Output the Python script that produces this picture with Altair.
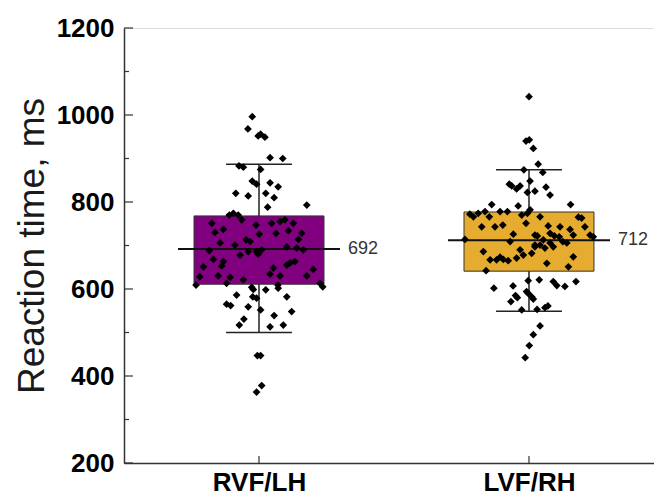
import altair as alt
import pandas as pd

categories = ["RVF/LH", "LVF/RH"]
colors = ["#800080", "#E6AC30"]
q1 = [611, 641]
q3 = [768, 777]
medians = [692, 712]
whisk_lo = [500, 549]
whisk_hi = [887, 874]

rvf_values = [996, 968, 952, 956, 949, 902, 900, 883, 880, 875,
              848, 841, 844, 835, 820, 814, 820, 810, 793, 788,
              770, 774, 770, 759, 751, 747, 751, 755, 759, 751,
              730, 737, 726, 728, 734, 728, 706, 713, 709, 714,
              688, 701, 686, 690, 694, 690, 697, 678, 686, 680,
              668, 663, 660, 663, 655, 651, 653, 648, 645, 628,
              630, 627, 621, 634, 630, 630, 609, 613, 605, 613,
              604, 599, 598, 602, 582, 586, 582, 579, 565, 562,
              559, 552, 539, 548, 531, 517, 513, 517, 447, 447,
              378, 363, 609]
rvf_jitter = [-0.025, -0.041, -0.003, 0.006, 0.022, 0.041, 0.088, -0.074, -0.058, 0.006,
              -0.025, -0.009, 0.041, 0.071, -0.086, -0.040, 0.025, 0.056, 0.177, 0.032,
              -0.110, -0.095, -0.077, -0.064, -0.175, -0.011, 0.047, 0.078, 0.096, 0.127,
              -0.163, -0.132, 0.001, 0.063, 0.109, 0.158, -0.144, -0.048, -0.033, 0.146,
              -0.184, -0.089, -0.009, 0.010, 0.140, 0.164, 0.103, -0.070, -0.040, -0.003,
              -0.169, -0.132, 0.115, 0.133, 0.103, -0.206, -0.138, 0.053, 0.201, -0.219,
              -0.151, -0.107, -0.058, 0.041, 0.078, 0.177, -0.233, 0.226, 0.236, -0.120,
              -0.027, -0.021, 0.025, 0.071, 0.103, -0.083, -0.023, -0.009, -0.120, -0.105,
              -0.040, 0.006, 0.056, 0.121, -0.056, -0.073, 0.041, 0.090, -0.006, 0.006,
              0.010, -0.009, 0.070]

lvf_values = [1042, 940, 943, 923, 887, 874, 868, 848, 841, 837,
              830, 837, 834, 816, 822, 825, 794, 791, 782, 794,
              772, 766, 774, 778, 766, 778, 778, 770, 774, 766,
              765, 763, 743, 743, 747, 751, 745, 743, 737, 743,
              714, 726, 709, 724, 722, 728, 722, 720, 724, 724,
              720, 713, 706, 709, 706, 701, 701, 686, 667, 667,
              673, 668, 665, 671, 690, 678, 682, 697, 694, 697,
              674, 659, 651, 642, 619, 621, 617, 608, 606, 617,
              602, 607, 594, 590, 582, 577, 585, 580, 571, 552,
              553, 557, 561, 515, 495, 470, 442]
lvf_jitter = [0.000, -0.011, 0.001, 0.016, 0.034, -0.019, 0.051, 0.004, -0.073, -0.064,
              -0.046, -0.033, 0.063, 0.078, -0.006, 0.022, -0.138, -0.040, 0.004, 0.154,
              -0.219, -0.206, -0.188, -0.163, -0.147, -0.107, -0.080, -0.027, -0.006, 0.041,
              0.183, 0.195, -0.175, -0.126, -0.097, -0.011, 0.071, 0.115, 0.152, 0.207,
              -0.237, -0.058, -0.070, 0.022, 0.031, 0.078, 0.094, 0.112, 0.164, 0.226,
              0.238, 0.053, 0.078, 0.125, 0.140, 0.041, 0.022, -0.169, -0.144, -0.120,
              -0.107, -0.095, -0.077, -0.046, -0.033, -0.021, 0.010, 0.022, 0.059, 0.090,
              0.164, 0.066, 0.146, -0.159, -0.003, 0.038, 0.090, 0.103, 0.133, 0.174,
              -0.130, -0.059, -0.009, -0.003, 0.010, 0.016, -0.050, -0.043, -0.067, -0.027,
              0.030, 0.059, 0.070, 0.041, 0.016, 0.001, -0.014]

y_ticks = [200, 400, 600, 800, 1000, 1200]
y_minor = [300, 500, 700, 900, 1100]

# ---- tables ----
BOX_HALF = 0.2407
MED_HALF = 0.30
CAP_HALF = 0.122

stats = pd.DataFrame({
    "cat": categories,
    "pos": [i + 1 for i in range(len(categories))],
    "color": colors,
    "q1": q1, "q3": q3, "med": medians, "lo": whisk_lo, "hi": whisk_hi,
})
stats["bl"] = stats["pos"] - BOX_HALF
stats["br"] = stats["pos"] + BOX_HALF
stats["ml"] = stats["pos"] - MED_HALF
stats["mr"] = stats["pos"] + MED_HALF
stats["cl"] = stats["pos"] - CAP_HALF
stats["cr"] = stats["pos"] + CAP_HALF
stats["tx"] = stats["pos"] + 0.33
stats["label"] = stats["med"].astype(str)

pts = pd.DataFrame({
    "x": [1 + j for j in rvf_jitter] + [2 + j for j in lvf_jitter],
    "y": rvf_values + lvf_values,
})

xscale = alt.Scale(domain=[0.5, 2.463], nice=False, zero=False)
yscale = alt.Scale(domain=[200, 1200], nice=False, zero=False)

label_expr = " : ".join(
    [f"datum.value == {i + 1} ? '{c}'" for i, c in enumerate(categories)]
) + " : ''"

XAX = alt.Axis(
    values=[1, 2], labelExpr=label_expr, ticks=False, grid=False,
    labelFontSize=26, labelFontWeight="bold", labelColor="black",
    labelFont="Liberation Sans", labelPadding=6, labelBaseline="top",
    domainColor="#333333", domainWidth=1.5, title=None)
YAX = alt.Axis(
    values=y_ticks, format="d", ticks=False, grid=False,
    labelFontSize=26, labelFontWeight="bold", labelColor="black",
    labelFont="Liberation Sans", labelPadding=10,
    domainColor="#333333", domainWidth=1.5,
    title="Reaction time, ms", titleFontSize=37, titleFontWeight="normal",
    titleFont="Liberation Sans", titleColor="#1a1a1a",
    titleX=-81, titleY=217.5, titleAngle=-90, titleAlign="center",
    titleBaseline="alphabetic")


def X(f):
    return alt.X(f, type="quantitative", scale=xscale, axis=XAX)


def Y(f):
    return alt.Y(f, type="quantitative", scale=yscale, axis=YAX)


base = alt.Chart(stats)

boxes = base.mark_rect(stroke="#333333", strokeWidth=1).encode(
    x=X("bl"), x2="br", y=Y("q1"), y2="q3",
    fill=alt.Fill("color:N", scale=None))

wl = base.mark_rule(color="#222222", strokeWidth=1.5).encode(
    x=X("pos"), y=Y("lo"), y2="q1")
wh = base.mark_rule(color="#222222", strokeWidth=1.5).encode(
    x=X("pos"), y=Y("q3"), y2="hi")
capl = base.mark_rule(color="#222222", strokeWidth=1.5).encode(
    x=X("cl"), x2="cr", y=Y("lo"))
caph = base.mark_rule(color="#222222", strokeWidth=1.5).encode(
    x=X("cl"), x2="cr", y=Y("hi"))
med = base.mark_rule(color="#111111", strokeWidth=2).encode(
    x=X("ml"), x2="mr", y=Y("med"))
medtxt = base.mark_text(align="left", baseline="middle", fontSize=18,
                        font="Liberation Sans", color="#333333").encode(
    x=X("tx"), y=Y("med"), text="label:N")

points = alt.Chart(pts).mark_point(shape="diamond", filled=True, color="black",
                                   size=60, opacity=1).encode(
    x=X("x"), y=Y("y"))

ymaj = alt.Chart(pd.DataFrame({"v": y_ticks})).mark_rule(color="#333333", strokeWidth=1.2).encode(
    x=alt.value(0), x2=alt.value(9), y=Y("v"))
ymin = alt.Chart(pd.DataFrame({"v": y_minor})).mark_rule(color="#333333", strokeWidth=1.2).encode(
    x=alt.value(0), x2=alt.value(5), y=Y("v"))
xt = alt.Chart(pd.DataFrame({"p": [1, 2]})).mark_rule(color="#333333", strokeWidth=1.2).encode(
    x=X("p"), y=alt.value(435), y2=alt.value(428))

chart = alt.layer(boxes, wl, wh, capl, caph, med, medtxt, points, ymaj, ymin, xt).properties(
    width=530, height=435,
    autosize=alt.AutoSizeParams(type="none"),
    padding={"left": 124, "top": 28, "right": 0, "bottom": 34},
).configure_view(stroke=None).configure(background="white")

chart.save("out.html", embed_options={"renderer": "svg", "actions": False})
